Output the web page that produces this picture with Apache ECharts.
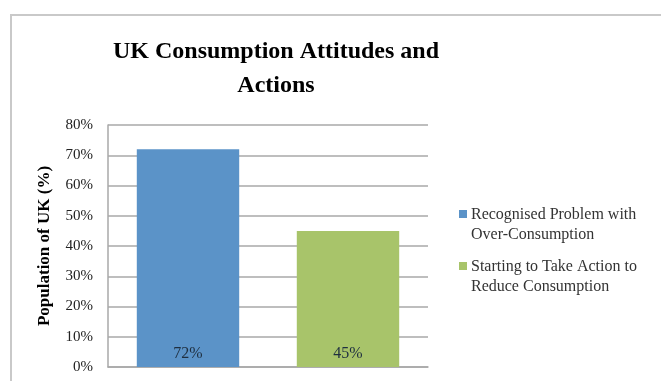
<!DOCTYPE html>
<html>
<head>
<meta charset="utf-8">
<style>
  html, body { margin: 0; padding: 0; background: #ffffff; }
  #chart { width: 661px; height: 381px; }
</style>
<script src="https://cdn.jsdelivr.net/npm/echarts@6/dist/echarts.min.js"></script>
</head>
<body>
<div id="chart"></div>
<script>
// Survey results: share of the UK population
const seriesNames = [
  'Recognised Problem with\nOver-Consumption',
  'Starting to Take Action to\nReduce Consumption'
];
const seriesValues = [72, 45];
const seriesColors = ['#5b93c8', '#a8c46a'];
const yTicks = [0, 10, 20, 30, 40, 50, 60, 70, 80];

const serif = '"Liberation Serif", "DejaVu Serif", serif';
const chart = echarts.init(document.getElementById('chart'), null, { renderer: 'canvas' });

// Legend swatch sits beside the first text line: a small square at the top of a tall box
const swatch = 'path://M0,0h0.01v0.01h-0.01z M0,5h8v8h-8z M0,40h0.01v0.01h-0.01z';

// One bar per series, each placed in its own category slot
const series = seriesNames.map((name, i) => ({
  name: name,
  type: 'bar',
  stack: 'all',
  barWidth: '64%',
  data: seriesValues.map((v, j) => (j === i ? v : '-')),
  itemStyle: { color: seriesColors[i] },
  label: {
    show: true,
    position: 'insideBottom',
    distance: 5,
    formatter: (p) => p.value + '%',
    fontFamily: serif,
    fontSize: 16,
    color: '#1f2f40'
  }
}));

chart.setOption({
  animation: false,
  backgroundColor: '#ffffff',
  graphic: [{
    type: 'rect',
    shape: { x: 11, y: 15, width: 700, height: 420 },
    style: { fill: 'none', stroke: '#c9c9c9', lineWidth: 2 },
    silent: true,
    z: -1
  }],
  title: {
    text: 'UK Consumption Attitudes and\nActions',
    left: 271,
    top: 30,
    textAlign: 'center',
    textStyle: {
      fontFamily: serif,
      fontWeight: 'bold',
      fontSize: 24,
      lineHeight: 34,
      color: '#000000'
    }
  },
  legend: {
    orient: 'vertical',
    left: 454,
    top: 200,
    itemWidth: 8,
    itemHeight: 40,
    itemGap: 12,
    icon: swatch,
    textStyle: { fontFamily: serif, fontSize: 16, lineHeight: 20, color: '#333333', padding: [0, 0, 0, -1] },
    data: seriesNames
  },
  grid: { left: 108, right: 233, top: 125, bottom: 14, containLabel: false },
  xAxis: {
    type: 'category',
    data: ['a', 'b'],
    axisLine: { show: true, lineStyle: { color: '#a8a8a8', width: 1.5 } },
    axisTick: { show: false },
    axisLabel: { show: false }
  },
  yAxis: {
    type: 'value',
    min: yTicks[0],
    max: yTicks[yTicks.length - 1],
    interval: 10,
    name: 'Population of UK (%)',
    nameLocation: 'middle',
    nameGap: 55,
    nameTextStyle: { fontFamily: serif, fontWeight: 'bold', fontSize: 17, color: '#000000' },
    axisLine: { show: true, lineStyle: { color: '#a8a8a8', width: 1.5 } },
    axisTick: { show: false },
    axisLabel: {
      margin: 15,
      formatter: (v) => v + '%',
      fontFamily: serif,
      fontSize: 15,
      color: '#222222'
    },
    splitLine: { show: true, lineStyle: { color: '#a8a8a8', width: 1.5 } }
  },
  series: series
});
</script>
</body>
</html>
